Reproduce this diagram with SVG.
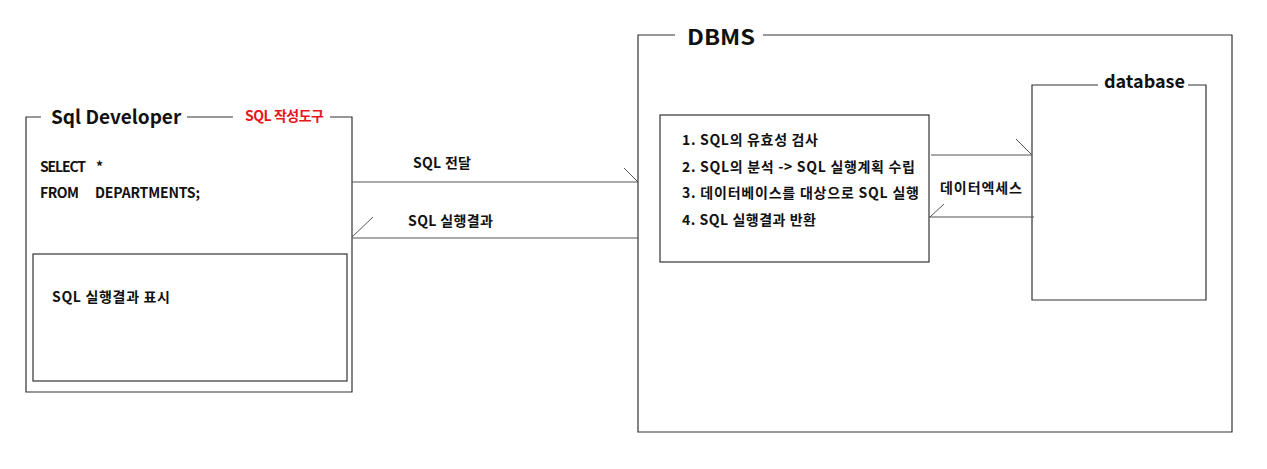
<svg xmlns="http://www.w3.org/2000/svg" width="1267" height="469" viewBox="0 0 1267 469">
<style>
.t{font-family:"Noto Sans CJK KR","Noto Sans",sans-serif;font-weight:bold;fill:#111;}
.s{font-size:14px;}
.h{font-size:19px;}
.m{font-size:18px;}
.ln{stroke:#333;stroke-width:1.2;fill:none;}
.c{stroke:#555;stroke-width:1.2;fill:none;}
.ah{stroke:#555;stroke-width:1;fill:none;}
</style>
<rect width="1267" height="469" fill="#fff"/>
<g id="sql-developer">
<path class="ln" d="M41 117 H26 V392 H352 V117 H330"/>
<path class="ln" d="M187 117 H233"/>
<text class="t h" x="51" y="124">Sql Developer</text>
<text class="t s" x="245" y="121" style="fill:#e8141b" textLength="79">SQL 작성도구</text>
<text class="t s" x="40" y="172" textLength="46">SELECT</text>
<text class="t s" x="96" y="172">*</text>
<text class="t s" x="40" y="198" textLength="39">FROM</text>
<text class="t s" x="95" y="198" textLength="105">DEPARTMENTS;</text>
</g>
<g id="result-view">
<rect class="ln" x="33" y="254" width="314" height="127"/>
<text class="t s" x="52" y="302" textLength="118">SQL 실행결과 표시</text>
</g>
<g id="dbms">
<path class="ln" d="M675 35 H638 V432 H1232 V35 H763"/>
<text class="t" x="687" y="45" style="font-size:21px" textLength="68" lengthAdjust="spacingAndGlyphs">DBMS</text>
</g>
<g id="process">
<rect class="ln" x="660" y="115" width="269" height="147"/>
<text class="t s" x="682" y="145" textLength="136">1. SQL의 유효성 검사</text>
<text class="t s" x="682" y="172" textLength="233">2. SQL의 분석 -&gt; SQL 실행계획 수립</text>
<text class="t s" x="682" y="198" textLength="237">3. 데이터베이스를 대상으로 SQL 실행</text>
<text class="t s" x="682" y="225" textLength="134">4. SQL 실행결과 반환</text>
</g>
<g id="database">
<path class="ln" d="M1098 85 H1032 V300 H1206 V85 H1188"/>
<text class="t m" x="1104" y="88" textLength="81">database</text>
</g>
<g id="connectors">
<line class="c" x1="352" y1="182" x2="638" y2="182"/>
<line class="ah" x1="624" y1="168" x2="638" y2="182"/>
<text class="t s" x="413" y="168" textLength="58">SQL 전달</text>
<line class="c" x1="352" y1="238" x2="638" y2="238"/>
<line class="ah" x1="352" y1="237" x2="373" y2="217"/>
<text class="t s" x="408" y="226" textLength="85">SQL 실행결과</text>
<line class="c" x1="931" y1="155" x2="1032" y2="155"/>
<line class="ah" x1="1016" y1="139" x2="1032" y2="155"/>
<line class="c" x1="929" y1="217" x2="1034" y2="217"/>
<line class="ah" x1="930" y1="217" x2="944" y2="204"/>
<text class="t s" x="940" y="193" textLength="82">데이터엑세스</text>
</g>
</svg>
